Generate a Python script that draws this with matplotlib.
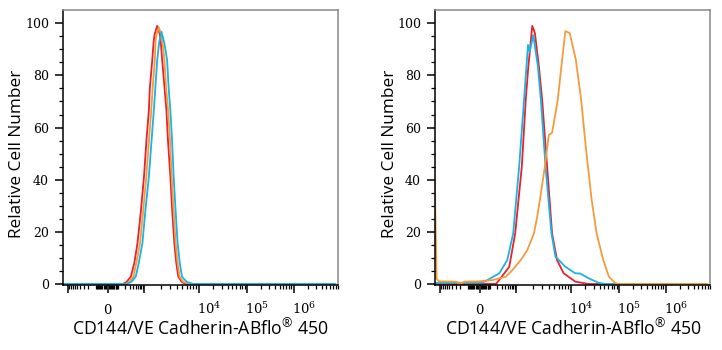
import numpy as np
import matplotlib
matplotlib.use("Agg")
import matplotlib.pyplot as plt
from matplotlib import transforms

plt.rcParams['mathtext.fontset'] = 'custom'
plt.rcParams['mathtext.rm'] = 'Open Sans'

RED = '#e8212b'
ORANGE = '#f59b3c'
CYAN = '#1bb2e4'

XMIN, XMAX = -1234, 7.83e6

# left panel histograms (fluorescence intensity, relative count)
left_red_x = [XMIN, 157, 222, 329, 441, 575, 765, 986, 1101, 1222, 1270, 1409, 1496, 1566, 1738,
              1928, 2018, 2143, 2377, 2566, 2741, 3033, 3281, 3589, 3899, 4236, 4909, 5686, XMAX]
left_red_y = [0, 0, 0.7, 2.8, 8, 15.6, 28, 41.2, 55, 66.7, 75, 85.9, 93, 96, 99,
              96, 93, 85.9, 75, 66.7, 55, 41.2, 28, 15.6, 8, 2.8, 0.8, 0, 0]

left_orange_x = [XMIN, 203, 289, 412, 520, 710, 923, 1096, 1227, 1352, 1432, 1572, 1618, 1675, 1856,
                 2065, 2168, 2360, 2535, 2754, 2985, 3200, 3483, 3788, 4117, 4477, 5224, 6442, XMAX]
left_orange_y = [0, 0, 0.8, 2.8, 8, 15.6, 28, 41.2, 55, 66.7, 75, 85.9, 93, 95.5, 98.5,
                 95.5, 93, 85.9, 75, 66.7, 55, 41.2, 28, 15.6, 8, 2.8, 0.8, 0, 0]

left_cyan_x = [XMIN, 242, 343, 499, 639, 865, 1052, 1222, 1368, 1507, 1603, 1738, 1897, 2080,
               2360, 2642, 2825, 3033, 3258, 3483, 3788, 4117, 4519, 4955, 6053, 7943, XMAX]
left_cyan_y = [0, 0, 0.8, 2.8, 8, 15.6, 28, 41.2, 55, 66.7, 75, 85.9, 93, 96.8,
               92.3, 85.9, 75, 66.7, 55, 41.2, 28, 15.6, 8, 2.8, 0.8, 0, 0]

# right panel histograms
right_red_x = [XMIN, 181, 565, 923, 1270, 1500, 1675, 1978, 2213, 2618, 3006, 3707, 4571, 5636, 7464, 12470, 23280, XMAX]
right_red_y = [0, 0, 6.6, 19.4, 45, 70.6, 83.4, 99, 96.2, 83.4, 70.6, 45, 19.4, 9.2, 4.1, 0.9, 0, 0]

right_cyan_x = [XMIN, 24.5, 70, 243, 479, 784, 1134, 1397, 1652, 1775, 2063, 2512, 2849, 3467, 4457, 5272,
                8017, 12470, 15780, 23280, 37240, 51040, XMAX]
right_cyan_y = [0.4, 0.5, 1.5, 4.1, 9.2, 19.4, 45, 70.6, 91.7, 89, 95.5, 83.4, 70.6, 45, 19.4, 10.5,
                6.6, 4.1, 4.0, 2.2, 0.5, 0, 0]

right_orange_x = [-1250, -1150, -1050, -272, -213, -138, -7, 126, 430, 741, 1217, 1603, 2125, 2438, 2729, 3365,
                  3981, 4571, 5406, 5803, 6774, 8017, 9661, 11510, 12820, 16520, 20900, 27210, 34410,
                  47120, 61630, 81660, 95500, XMAX]
right_orange_y = [40, 2, 1, 0.9, 0, 0.9, 1, 1.5, 2.8, 5.4, 9.2, 13, 19.4, 25.8, 32.2, 45,
                  57.2, 58, 66.7, 70.6, 83.4, 97, 96.2, 89.8, 86, 70.6, 51.4, 32.2, 19.4,
                  9.2, 2.8, 0.5, 0, 0]

# biexponential-like display scale
S_ANCH = np.arcsinh(np.array([-1e4, -1e3, 0, 1e3, 1e4, 1e5, 1e6, 1e7]) / 100)
P_ANCH = np.array([-95, -40, 0, 37, 92, 141, 188, 235])


def fwd(v):
    return np.interp(np.arcsinh(np.asarray(v, dtype=float) / 100), S_ANCH, P_ANCH)


def inv(p):
    return 100 * np.sinh(np.interp(np.asarray(p, dtype=float), P_ANCH, S_ANCH))


major_ticks = [-1e3, 0, 1e3, 1e4, 1e5, 1e6]
minor_ticks = []
for n in range(1, 7):
    for k in range(2, 10):
        minor_ticks.append(k * 10 ** n)
for n in (1, 2):
    for k in range(2, 10):
        minor_ticks.append(-k * 10 ** n)
minor_ticks += [-100, -10, 10, 100]
tick_labels = [(0, '0', 'center'), (1e4, r'$10^{4}$', 'left'), (1e5, r'$10^{5}$', 'left'), (1e6, r'$10^{6}$', 'left')]

fig = plt.figure(figsize=(7.22, 3.5), dpi=100)
ax1 = fig.add_axes([63 / 722, 65 / 350, 275 / 722, 275 / 350])
ax2 = fig.add_axes([435 / 722, 65 / 350, 275 / 722, 275 / 350])

panels = [
    (ax1, [(left_red_x, left_red_y, RED), (left_orange_x, left_orange_y, ORANGE), (left_cyan_x, left_cyan_y, CYAN)], 200),
    (ax2, [(right_red_x, right_red_y, RED), (right_cyan_x, right_cyan_y, CYAN), (right_orange_x, right_orange_y, ORANGE)], 573),
]

for ax, curves, xlab_center in panels:
    ax.set_xscale('function', functions=(fwd, inv))
    for xs, ys, col in curves:
        ax.plot(xs, ys, color=col, lw=1.3, solid_joinstyle='round')
    ax.set_xlim(XMIN, XMAX)
    ax.set_ylim(-0.4, 105.1)

    ax.set_xticks(major_ticks)
    ax.set_xticks(minor_ticks, minor=True)
    ax.set_xticklabels([])
    ax.set_yticks([0, 20, 40, 60, 80, 100])
    ax.set_yticks(np.arange(0, 105, 5), minor=True)
    ax.set_yticklabels(['0', '20', '40', '60', '80', '100'], family='DejaVu Serif', fontsize=9)
    ax.tick_params(axis='both', which='major', direction='out', length=6, width=1.1, color='black', pad=4)
    ax.tick_params(axis='both', which='minor', direction='out', length=3, width=0.9, color='black')

    for sp in ('left', 'bottom'):
        ax.spines[sp].set_color('black')
        ax.spines[sp].set_linewidth(1.1)
    for sp in ('top', 'right'):
        ax.spines[sp].set_color('#888888')
        ax.spines[sp].set_linewidth(1.1)

    trans = transforms.blended_transform_factory(ax.transData, ax.transAxes)
    for val, txt, ha in tick_labels:
        off = transforms.ScaledTranslation(-2 / 100 if ha == 'left' else 0, 0, fig.dpi_scale_trans)
        ax.text(val, -0.105, txt, transform=trans + off, ha=ha, va='baseline',
                family='DejaVu Serif', fontsize=9.5, math_fontfamily='dejavuserif')

    fig.text(xlab_center / 722, 1 - 329 / 350, 'CD144/VE Cadherin-ABflo$^{\\mathrm{®}}$ 450',
             ha='center', va='center', family='Open Sans', fontsize=12.7)

fig.text(17 / 722, 1 - 154 / 350, 'Relative Cell Number', rotation=90, ha='center', va='center',
         family='Open Sans', fontsize=12.4)
fig.text(390 / 722, 1 - 154 / 350, 'Relative Cell Number', rotation=90, ha='center', va='center',
         family='Open Sans', fontsize=12.4)

fig.savefig('out.png', dpi=100)
